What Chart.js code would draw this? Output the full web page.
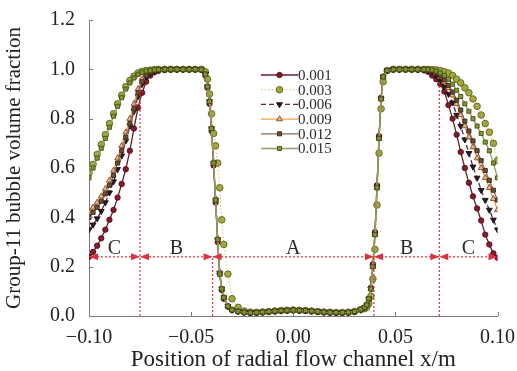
<!DOCTYPE html>
<html>
<head>
<meta charset="utf-8">
<script src="https://cdn.jsdelivr.net/npm/chart.js@4.4.0/dist/chart.umd.min.js"></script>
<style>
  html, body { margin: 0; padding: 0; background: #fff; }
  #chart { display: block; }
</style>
</head>
<body>
<canvas id="chart" width="517" height="371"></canvas>
<script>
// radial position grid (m), shared by all series
const xs = [
  -0.100, -0.098, -0.096, -0.094, -0.092, -0.090, -0.088, -0.086, -0.084, -0.082, -0.080, -0.078, -0.076, -0.074, -0.072, -0.070, -0.068, -0.066,
  -0.063, -0.060, -0.057, -0.054, -0.051, -0.048, -0.045,
  -0.043, -0.042, -0.041, -0.040, -0.039, -0.038, -0.037, -0.036, -0.035, -0.034, -0.032, -0.030,
  -0.027, -0.024, -0.021, -0.018, -0.015, -0.012, -0.009, -0.006, -0.003, 0.000, 0.003, 0.006, 0.009, 0.012, 0.015, 0.018, 0.021, 0.024, 0.027, 0.030, 0.033,
  0.035, 0.036, 0.037, 0.038, 0.039, 0.040, 0.041, 0.042, 0.043, 0.044, 0.046,
  0.049, 0.052, 0.055, 0.058, 0.061, 0.064,
  0.066, 0.068, 0.070, 0.072, 0.074, 0.076, 0.078, 0.080, 0.082, 0.084, 0.086, 0.088, 0.090, 0.092, 0.094, 0.096, 0.098, 0.100
];

const s001 = [
  0.24, 0.26, 0.285, 0.315, 0.35, 0.39, 0.43, 0.48, 0.535, 0.595, 0.67, 0.76, 0.845, 0.905, 0.95, 0.975, 0.988, 0.994,
  0.997, 0.999, 1.0, 1.0, 1.0, 1.0, 0.998,
  0.975, 0.925, 0.86, 0.75, 0.61, 0.46, 0.30, 0.17, 0.105, 0.07, 0.038, 0.024,
  0.018, 0.014, 0.012, 0.013, 0.015, 0.017, 0.019, 0.021, 0.022, 0.023, 0.022, 0.021, 0.019, 0.017, 0.015, 0.014, 0.013, 0.013, 0.014, 0.017, 0.026,
  0.034, 0.045, 0.07, 0.115, 0.21, 0.34, 0.53, 0.73, 0.885, 0.97, 0.995,
  1.0, 1.0, 1.0, 1.0, 0.999, 0.996,
  0.99, 0.975, 0.96, 0.94, 0.91, 0.855, 0.80, 0.735, 0.665, 0.60, 0.54, 0.485, 0.436, 0.387, 0.33, 0.29, 0.254, 0.236
];
const s003 = [
  0.58, 0.615, 0.655, 0.695, 0.735, 0.78, 0.82, 0.86, 0.895, 0.93, 0.955, 0.972, 0.985, 0.992, 0.995, 0.997, 0.999, 1.0,
  1.0, 1.0, 1.0, 1.0, 1.0, 1.0, 1.0,
  0.99, 0.96, 0.90, 0.82, 0.74, 0.69, 0.62, 0.52, 0.39, 0.29, 0.17, 0.07,
  0.035, 0.02, 0.016, 0.015, 0.016, 0.018, 0.02, 0.022, 0.023, 0.024, 0.023, 0.022, 0.02, 0.018, 0.016, 0.015, 0.014, 0.014, 0.015, 0.018, 0.025,
  0.03, 0.036, 0.05, 0.08, 0.15, 0.27, 0.45, 0.66, 0.84, 0.95, 0.995,
  1.0, 1.0, 1.0, 1.0, 1.0, 1.0,
  1.0, 0.999, 0.998, 0.995, 0.99, 0.985, 0.975, 0.96, 0.945, 0.925, 0.905, 0.88, 0.85, 0.815, 0.78, 0.745, 0.70, 0.63
];
const s006 = [
  0.35, 0.37, 0.395, 0.425, 0.46, 0.50, 0.545, 0.595, 0.65, 0.71, 0.77, 0.83, 0.89, 0.94, 0.97, 0.985, 0.993, 0.997,
  0.999, 1.0, 1.0, 1.0, 1.0, 1.0, 0.999,
  0.98, 0.93, 0.87, 0.76, 0.62, 0.47, 0.31, 0.175, 0.11, 0.075, 0.04, 0.025,
  0.019, 0.015, 0.013, 0.014, 0.016, 0.018, 0.02, 0.022, 0.023, 0.024, 0.023, 0.022, 0.02, 0.018, 0.016, 0.015, 0.014, 0.014, 0.015, 0.018, 0.027,
  0.035, 0.045, 0.07, 0.11, 0.2, 0.33, 0.52, 0.72, 0.88, 0.97, 0.995,
  1.0, 1.0, 1.0, 1.0, 1.0, 0.998,
  0.995, 0.99, 0.975, 0.955, 0.93, 0.90, 0.865, 0.815, 0.77, 0.715, 0.66, 0.605, 0.56, 0.51, 0.47, 0.43, 0.39, 0.35
];
const s009 = [
  0.42, 0.44, 0.46, 0.485, 0.515, 0.55, 0.59, 0.64, 0.69, 0.745, 0.80, 0.86, 0.92, 0.96, 0.98, 0.99, 0.995, 0.998,
  1.0, 1.0, 1.0, 1.0, 1.0, 1.0, 0.999,
  0.98, 0.935, 0.875, 0.765, 0.625, 0.475, 0.315, 0.18, 0.11, 0.075, 0.04, 0.025,
  0.019, 0.015, 0.013, 0.014, 0.016, 0.018, 0.02, 0.022, 0.023, 0.024, 0.023, 0.022, 0.02, 0.018, 0.016, 0.015, 0.014, 0.014, 0.015, 0.018, 0.027,
  0.035, 0.045, 0.068, 0.11, 0.2, 0.33, 0.52, 0.72, 0.88, 0.97, 0.995,
  1.0, 1.0, 1.0, 1.0, 1.0, 0.999,
  0.997, 0.993, 0.985, 0.97, 0.95, 0.925, 0.895, 0.86, 0.815, 0.77, 0.725, 0.685, 0.64, 0.60, 0.56, 0.52, 0.475, 0.43
];
const s012 = [
  0.40, 0.42, 0.44, 0.465, 0.495, 0.53, 0.57, 0.62, 0.67, 0.725, 0.78, 0.84, 0.905, 0.95, 0.975, 0.988, 0.994, 0.997,
  1.0, 1.0, 1.0, 1.0, 1.0, 1.0, 0.999,
  0.98, 0.93, 0.87, 0.76, 0.62, 0.47, 0.31, 0.17, 0.11, 0.075, 0.04, 0.025,
  0.019, 0.015, 0.013, 0.014, 0.016, 0.018, 0.02, 0.022, 0.023, 0.024, 0.023, 0.022, 0.02, 0.018, 0.016, 0.015, 0.014, 0.014, 0.015, 0.018, 0.027,
  0.035, 0.045, 0.07, 0.11, 0.2, 0.33, 0.52, 0.72, 0.88, 0.97, 0.995,
  1.0, 1.0, 1.0, 1.0, 1.0, 0.999,
  0.998, 0.995, 0.988, 0.975, 0.958, 0.935, 0.908, 0.875, 0.835, 0.79, 0.75, 0.71, 0.67, 0.63, 0.59, 0.55, 0.51, 0.47
];
const s015 = [
  0.56, 0.60, 0.64, 0.68, 0.72, 0.765, 0.81, 0.85, 0.885, 0.92, 0.945, 0.965, 0.98, 0.988, 0.993, 0.996, 0.998, 0.999,
  1.0, 1.0, 1.0, 1.0, 1.0, 1.0, 0.999,
  0.98, 0.93, 0.87, 0.76, 0.62, 0.47, 0.31, 0.17, 0.11, 0.075, 0.04, 0.025,
  0.019, 0.015, 0.013, 0.014, 0.016, 0.018, 0.02, 0.022, 0.023, 0.024, 0.023, 0.022, 0.02, 0.018, 0.016, 0.015, 0.014, 0.014, 0.015, 0.018, 0.027,
  0.035, 0.045, 0.07, 0.11, 0.2, 0.33, 0.52, 0.72, 0.88, 0.97, 0.995,
  1.0, 1.0, 1.0, 1.0, 1.0, 1.0,
  0.999, 0.997, 0.993, 0.985, 0.975, 0.96, 0.94, 0.915, 0.89, 0.86, 0.83, 0.80, 0.77, 0.74, 0.705, 0.67, 0.62, 0.56
];

const seriesNames = ['0.001', '0.003', '0.006', '0.009', '0.012', '0.015'];
const seriesValues = [s001, s003, s006, s009, s012, s015];

const xTicks = [-0.10, -0.05, 0.00, 0.05, 0.10];
const yTicks = [0.0, 0.2, 0.4, 0.6, 0.8, 1.0, 1.2];

// flow zones along the radius
const zoneEdges = [-0.10, -0.075, -0.0395, 0.0395, 0.0715, 0.10];
const zoneNames = ['C', 'B', 'A', 'B', 'C'];
const zoneLevel = 0.24;
const edgeTops = [null, 0.97, 0.24, 0.24, 0.95, null];

const serif = '"Liberation Serif", "Times New Roman", serif';

const styles = [
  { line: '#6e1a2a', fill: '#861a2a', edge: '#4e0e1a', shape: 'circle', r: 2.7, dash: [], order: 5 },
  { line: '#d6d27a', fill: '#a3a83c', edge: '#5e6420', shape: 'circle', r: 3.3, dash: [1.5, 2], order: 4 },
  { line: '#4e2a4c', fill: '#2a1a22', edge: '#1a1014', shape: 'triangle', rot: 180, r: 3.4, dash: [5, 3], order: 3 },
  { line: '#f0a050', fill: '#e2b886', edge: '#8a4a2c', shape: 'triangle', rot: 0, r: 3.4, dash: [], order: 2 },
  { line: '#8c6a58', fill: '#6a5030', edge: '#3a2818', shape: 'rect', r: 2.9, dash: [], order: 1 },
  { line: '#8e9e66', fill: '#86962e', edge: '#44501a', shape: 'rect', r: 2.9, dash: [], order: 0 }
];

const datasets = seriesNames.map((name, k) => ({
  label: name,
  data: xs.map((x, i) => ({ x: x, y: seriesValues[k][i] })),
  showLine: true,
  borderColor: styles[k].line,
  borderWidth: 1.3,
  borderDash: styles[k].dash,
  pointStyle: styles[k].shape,
  pointRotation: styles[k].rot || 0,
  pointRadius: styles[k].r,
  pointBackgroundColor: styles[k].fill,
  pointBorderColor: styles[k].edge,
  pointBorderWidth: 0.9,
  order: styles[k].order
}));

function drawMarker(ctx, st, x, y) {
  ctx.fillStyle = st.fill;
  ctx.strokeStyle = st.edge;
  ctx.lineWidth = 0.9;
  ctx.setLineDash([]);
  Chart.helpers.drawPoint(ctx, { pointStyle: st.shape, rotation: st.rot || 0, radius: st.r, borderWidth: 0.9 }, x, y);
}

const extras = {
  id: 'extras',
  afterDatasetsDraw(chart) {
    const ctx = chart.ctx;
    const xS = chart.scales.x, yS = chart.scales.y;
    const area = chart.chartArea;
    ctx.save();

    // inward tick marks
    ctx.strokeStyle = '#7a7a7a';
    ctx.lineWidth = 1;
    xTicks.forEach(v => {
      const px = Math.round(xS.getPixelForValue(v)) + 0.5;
      ctx.beginPath(); ctx.moveTo(px, area.bottom); ctx.lineTo(px, area.bottom - 4); ctx.stroke();
    });
    yTicks.forEach(v => {
      const py = Math.round(yS.getPixelForValue(v)) + 0.5;
      ctx.beginPath(); ctx.moveTo(area.left, py); ctx.lineTo(area.left + 4, py); ctx.stroke();
    });

    // zone markers
    const red = '#e0303c';
    const yl = yS.getPixelForValue(zoneLevel);
    ctx.strokeStyle = red;
    ctx.lineWidth = 1.2;
    ctx.setLineDash([2, 2]);
    ctx.beginPath();
    ctx.moveTo(xS.getPixelForValue(zoneEdges[0]), yl);
    ctx.lineTo(xS.getPixelForValue(zoneEdges[zoneEdges.length - 1]), yl);
    ctx.stroke();
    zoneEdges.forEach((e, i) => {
      if (edgeTops[i] === null) return;
      const px = xS.getPixelForValue(e);
      ctx.beginPath();
      ctx.moveTo(px, yS.getPixelForValue(0));
      ctx.lineTo(px, yS.getPixelForValue(edgeTops[i]));
      ctx.stroke();
    });
    ctx.setLineDash([]);
    ctx.fillStyle = red;
    const arrow = (tip, dir) => {
      ctx.beginPath();
      ctx.moveTo(tip, yl);
      ctx.lineTo(tip - dir * 9, yl - 3.5);
      ctx.lineTo(tip - dir * 9, yl + 3.5);
      ctx.closePath();
      ctx.fill();
    };
    zoneEdges.forEach((e, i) => {
      const px = xS.getPixelForValue(e);
      if (i > 0) arrow(px, 1);
      if (i < zoneEdges.length - 1) arrow(px, -1);
    });
    ctx.fillStyle = '#2a2a2a';
    ctx.font = '20px ' + serif;
    ctx.textAlign = 'center';
    ctx.textBaseline = 'alphabetic';
    zoneNames.forEach((n, i) => {
      const mid = (zoneEdges[i] + zoneEdges[i + 1]) / 2;
      ctx.fillText(n, xS.getPixelForValue(mid), yl - 3);
    });

    // legend
    const lx = 261, ly = 75, gap = 14.7, len = 37;
    ctx.font = '15px ' + serif;
    ctx.textAlign = 'left';
    ctx.textBaseline = 'middle';
    seriesNames.forEach((n, k) => {
      const st = styles[k];
      const y = ly + k * gap;
      ctx.strokeStyle = st.line;
      ctx.lineWidth = 1.3;
      ctx.setLineDash(st.dash);
      ctx.beginPath(); ctx.moveTo(lx, y); ctx.lineTo(lx + len, y); ctx.stroke();
      drawMarker(ctx, st, lx + len / 2, y);
      ctx.fillStyle = '#2a2a2a';
      ctx.fillText(n, lx + len, y + 1);
    });
    ctx.restore();
  }
};

new Chart(document.getElementById('chart'), {
  type: 'scatter',
  data: { datasets: datasets },
  options: {
    responsive: false,
    animation: false,
    devicePixelRatio: 1,
    layout: { padding: { left: 0, right: 18, top: 20, bottom: 0 } },
    plugins: { legend: { display: false }, tooltip: { enabled: false } },
    elements: { line: { tension: 0 } },
    scales: {
      x: {
        type: 'linear',
        min: -0.1,
        max: 0.1,
        afterBuildTicks: s => { s.ticks = xTicks.map(v => ({ value: v })); },
        afterFit: s => { s.height = 55; },
        grid: { display: false },
        border: { display: true, color: '#7a7a7a', width: 1 },
        ticks: {
          autoSkip: false,
          maxRotation: 0,
          padding: 2,
          color: '#222',
          font: { family: serif, size: 20 },
          callback: v => (v < -1e-9 ? '\u2212' : '') + Math.abs(v).toFixed(2)
        },
        title: {
          display: true,
          text: 'Position of radial flow channel x/m',
          color: '#222',
          font: { family: serif, size: 23, lineHeight: 1 },
          padding: { top: 0, bottom: 0 }
        }
      },
      y: {
        min: 0,
        max: 1.2,
        afterBuildTicks: s => { s.ticks = yTicks.map(v => ({ value: v })); },
        afterFit: s => { s.width = 89; },
        grid: { display: false },
        border: { display: true, color: '#7a7a7a', width: 1 },
        ticks: {
          padding: 6,
          color: '#222',
          font: { family: serif, size: 20 },
          callback: v => v.toFixed(1)
        },
        title: {
          display: true,
          text: 'Group-11 bubble volume fraction',
          color: '#222',
          font: { family: serif, size: 21, lineHeight: 1 },
          padding: { top: 4, bottom: 0 }
        }
      }
    }
  },
  plugins: [extras]
});
</script>
</body>
</html>
